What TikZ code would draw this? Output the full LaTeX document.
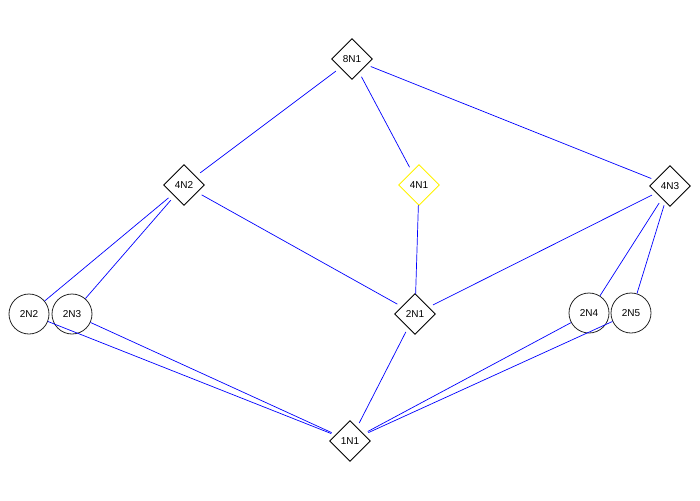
\documentclass[tikz,border=0pt]{standalone}
\usepackage{fontspec}
\setmainfont{Liberation Sans}
\begin{document}
\begin{tikzpicture}[x=1pt,y=-1pt,
  vnode/.style={circle, minimum size=40pt, inner sep=0pt, font=\fontsize{10}{12}\selectfont},
  cnode/.style={vnode, draw=black!85, line width=0.8pt},
  edge/.style={draw=blue, line width=0.7pt}]
\useasboundingbox (0,0) rectangle (700,500);
\node[vnode] (n8N1) at (352,59) {8N1};
\node[vnode] (n4N2) at (184,185) {4N2};
\node[vnode] (n4N1) at (419,185) {4N1};
\node[vnode] (n4N3) at (670,186) {4N3};
\node[vnode] (n2N1) at (415,314) {2N1};
\node[vnode] (n1N1) at (350,441) {1N1};
\node[cnode] (n2N2) at (29,314) {2N2};
\node[cnode] (n2N3) at (72,314) {2N3};
\node[cnode] (n2N4) at (589,313) {2N4};
\node[cnode] (n2N5) at (631,313) {2N5};
\foreach \n in {n8N1,n4N2,n4N3,n2N1,n1N1}
  \draw[black, line width=0.8pt, line join=miter] (\n.north) -- (\n.east) -- (\n.south) -- (\n.west) -- cycle;
\draw[yellow, line width=0.8pt] (n4N1.north) -- (n4N1.east) -- (n4N1.south) -- (n4N1.west) -- cycle;
\draw[edge] (n8N1) -- (n4N2);
\draw[edge] (n8N1) -- (n4N1);
\draw[edge] (n8N1) -- (n4N3);
\draw[edge] (n4N2) -- (n2N2);
\draw[edge] (n4N2) -- (n2N3);
\draw[edge] (n4N2) -- (n2N1);
\draw[edge] (n4N1) -- (n2N1);
\draw[edge] (n4N3) -- (n2N1);
\draw[edge] (n4N3) -- (n2N4);
\draw[edge] (n4N3) -- (n2N5);
\draw[edge] (n2N2) -- (n1N1);
\draw[edge] (n2N3) -- (n1N1);
\draw[edge] (n2N1) -- (n1N1);
\draw[edge] (n2N4) -- (n1N1);
\draw[edge] (n2N5) -- (n1N1);
\end{tikzpicture}
\end{document}
